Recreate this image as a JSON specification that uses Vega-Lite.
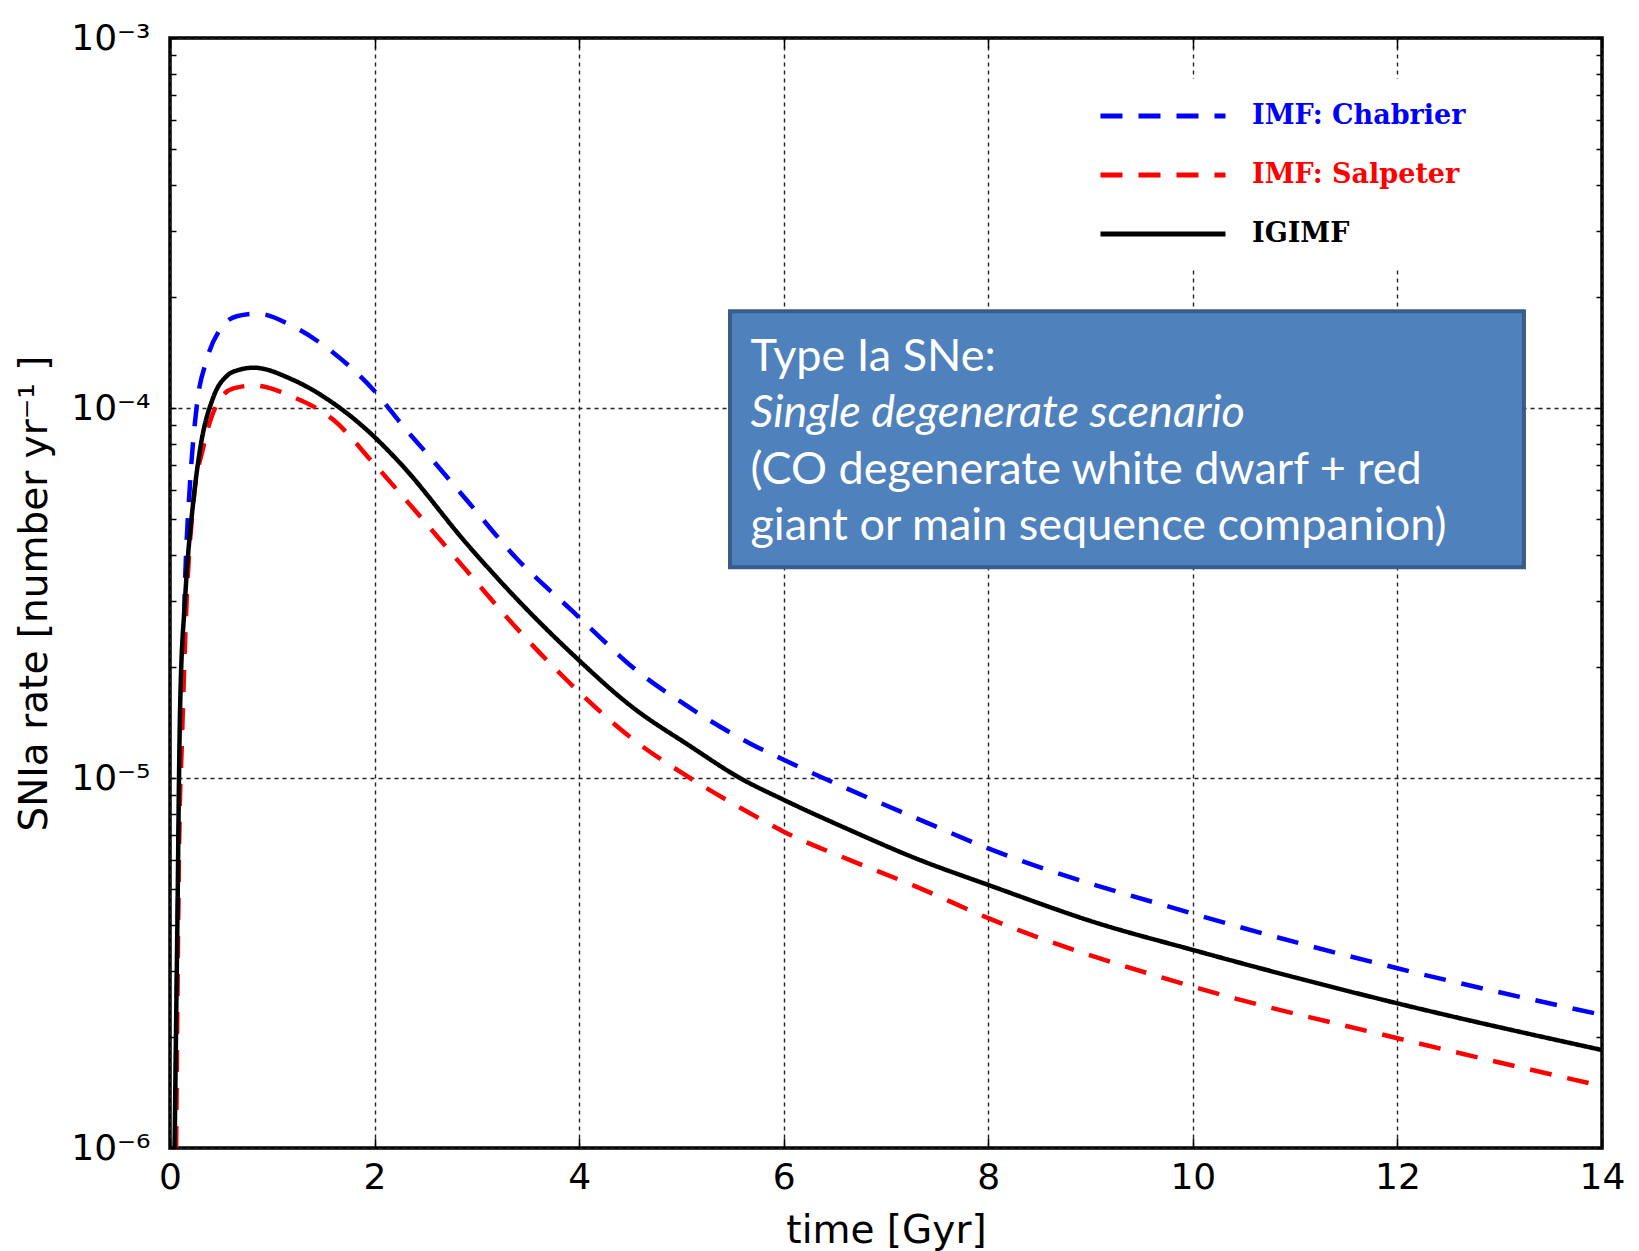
{
  "$schema": "https://vega.github.io/schema/vega-lite/v6.json",
  "width": 1432,
  "height": 1110,
  "autosize": {"type": "none"},
  "padding": {"left": 170, "top": 38, "right": 37, "bottom": 103},
  "background": "white",
  "config": {
    "view": {"stroke": "black", "strokeWidth": 3.5},
    "axis": {
      "labelFont": "DejaVu Sans",
      "labelFontSize": 36,
      "labelColor": "black",
      "titleFont": "DejaVu Sans",
      "titleFontSize": 39,
      "titleFontWeight": "normal",
      "titleColor": "black",
      "tickColor": "black",
      "tickWidth": 1.5,
      "domain": false,
      "labelOverlap": false,
      "labelFlush": false
    }
  },
  "resolve": {"axis": {"x": "independent", "y": "independent"}},
  "layer": [
    {
      "data": {
        "values": [
          {"t": 0.05, "rate": 1.0e-6, "model": "IMF: Chabrier"},
          {"t": 0.07, "rate": 3.0e-6, "model": "IMF: Chabrier"},
          {"t": 0.09, "rate": 8.0e-6, "model": "IMF: Chabrier"},
          {"t": 0.114, "rate": 1.47e-5, "model": "IMF: Chabrier"},
          {"t": 0.147, "rate": 3.37e-5, "model": "IMF: Chabrier"},
          {"t": 0.196, "rate": 6.27e-5, "model": "IMF: Chabrier"},
          {"t": 0.261, "rate": 1.01e-4, "model": "IMF: Chabrier"},
          {"t": 0.359, "rate": 1.35e-4, "model": "IMF: Chabrier"},
          {"t": 0.489, "rate": 1.63e-4, "model": "IMF: Chabrier"},
          {"t": 0.652, "rate": 1.77e-4, "model": "IMF: Chabrier"},
          {"t": 0.847, "rate": 1.80e-4, "model": "IMF: Chabrier"},
          {"t": 1.206, "rate": 1.66e-4, "model": "IMF: Chabrier"},
          {"t": 1.597, "rate": 1.41e-4, "model": "IMF: Chabrier"},
          {"t": 1.988, "rate": 1.12e-4, "model": "IMF: Chabrier"},
          {"t": 2.297, "rate": 8.81e-5, "model": "IMF: Chabrier"},
          {"t": 2.509, "rate": 7.55e-5, "model": "IMF: Chabrier"},
          {"t": 2.9, "rate": 5.64e-5, "model": "IMF: Chabrier"},
          {"t": 3.389, "rate": 3.92e-5, "model": "IMF: Chabrier"},
          {"t": 3.943, "rate": 2.81e-5, "model": "IMF: Chabrier"},
          {"t": 4.204, "rate": 2.4e-5, "model": "IMF: Chabrier"},
          {"t": 4.497, "rate": 2.02e-5, "model": "IMF: Chabrier"},
          {"t": 5.018, "rate": 1.59e-5, "model": "IMF: Chabrier"},
          {"t": 5.67, "rate": 1.24e-5, "model": "IMF: Chabrier"},
          {"t": 6.0, "rate": 1.12e-5, "model": "IMF: Chabrier"},
          {"t": 6.648, "rate": 9.29e-6, "model": "IMF: Chabrier"},
          {"t": 7.3, "rate": 7.78e-6, "model": "IMF: Chabrier"},
          {"t": 8.0, "rate": 6.45e-6, "model": "IMF: Chabrier"},
          {"t": 10.0, "rate": 4.3e-6, "model": "IMF: Chabrier"},
          {"t": 12.0, "rate": 3.06e-6, "model": "IMF: Chabrier"},
          {"t": 14.0, "rate": 2.29e-6, "model": "IMF: Chabrier"},

          {"t": 0.06, "rate": 1.0e-6, "model": "IMF: Salpeter"},
          {"t": 0.075, "rate": 3.0e-6, "model": "IMF: Salpeter"},
          {"t": 0.09, "rate": 7.0e-6, "model": "IMF: Salpeter"},
          {"t": 0.114, "rate": 1.19e-5, "model": "IMF: Salpeter"},
          {"t": 0.163, "rate": 3.03e-5, "model": "IMF: Salpeter"},
          {"t": 0.228, "rate": 5.52e-5, "model": "IMF: Salpeter"},
          {"t": 0.326, "rate": 7.85e-5, "model": "IMF: Salpeter"},
          {"t": 0.456, "rate": 1.02e-4, "model": "IMF: Salpeter"},
          {"t": 0.619, "rate": 1.13e-4, "model": "IMF: Salpeter"},
          {"t": 0.815, "rate": 1.15e-4, "model": "IMF: Salpeter"},
          {"t": 1.206, "rate": 1.07e-4, "model": "IMF: Salpeter"},
          {"t": 1.597, "rate": 9.29e-5, "model": "IMF: Salpeter"},
          {"t": 1.988, "rate": 7.1e-5, "model": "IMF: Salpeter"},
          {"t": 2.281, "rate": 5.75e-5, "model": "IMF: Salpeter"},
          {"t": 2.868, "rate": 3.72e-5, "model": "IMF: Salpeter"},
          {"t": 3.356, "rate": 2.6e-5, "model": "IMF: Salpeter"},
          {"t": 3.878, "rate": 1.84e-5, "model": "IMF: Salpeter"},
          {"t": 4.53, "rate": 1.27e-5, "model": "IMF: Salpeter"},
          {"t": 5.084, "rate": 1.0e-5, "model": "IMF: Salpeter"},
          {"t": 5.67, "rate": 8.03e-6, "model": "IMF: Salpeter"},
          {"t": 6.0, "rate": 7.16e-6, "model": "IMF: Salpeter"},
          {"t": 6.648, "rate": 6.0e-6, "model": "IMF: Salpeter"},
          {"t": 7.3, "rate": 5.08e-6, "model": "IMF: Salpeter"},
          {"t": 8.0, "rate": 4.18e-6, "model": "IMF: Salpeter"},
          {"t": 10.0, "rate": 2.73e-6, "model": "IMF: Salpeter"},
          {"t": 12.0, "rate": 1.98e-6, "model": "IMF: Salpeter"},
          {"t": 14.0, "rate": 1.47e-6, "model": "IMF: Salpeter"},

          {"t": 0.045, "rate": 1.0e-6, "model": "IGIMF"},
          {"t": 0.06, "rate": 2.2e-6, "model": "IGIMF"},
          {"t": 0.075, "rate": 4.7e-6, "model": "IGIMF"},
          {"t": 0.088, "rate": 1.0e-5, "model": "IGIMF"},
          {"t": 0.1, "rate": 1.6e-5, "model": "IGIMF"},
          {"t": 0.147, "rate": 3.03e-5, "model": "IGIMF"},
          {"t": 0.228, "rate": 5.6e-5, "model": "IGIMF"},
          {"t": 0.293, "rate": 7.7e-5, "model": "IGIMF"},
          {"t": 0.424, "rate": 1.07e-4, "model": "IGIMF"},
          {"t": 0.554, "rate": 1.22e-4, "model": "IGIMF"},
          {"t": 0.684, "rate": 1.27e-4, "model": "IGIMF"},
          {"t": 0.815, "rate": 1.285e-4, "model": "IGIMF"},
          {"t": 1.206, "rate": 1.19e-4, "model": "IGIMF"},
          {"t": 1.597, "rate": 1.03e-4, "model": "IGIMF"},
          {"t": 1.923, "rate": 8.73e-5, "model": "IGIMF"},
          {"t": 2.249, "rate": 7.1e-5, "model": "IGIMF"},
          {"t": 2.9, "rate": 4.3e-5, "model": "IGIMF"},
          {"t": 3.389, "rate": 3.05e-5, "model": "IGIMF"},
          {"t": 3.943, "rate": 2.15e-5, "model": "IGIMF"},
          {"t": 4.513, "rate": 1.56e-5, "model": "IGIMF"},
          {"t": 5.084, "rate": 1.22e-5, "model": "IGIMF"},
          {"t": 5.572, "rate": 1.0e-5, "model": "IGIMF"},
          {"t": 6.0, "rate": 8.73e-6, "model": "IGIMF"},
          {"t": 6.648, "rate": 7.23e-6, "model": "IGIMF"},
          {"t": 7.3, "rate": 6.05e-6, "model": "IGIMF"},
          {"t": 8.0, "rate": 5.14e-6, "model": "IGIMF"},
          {"t": 9.07, "rate": 4.05e-6, "model": "IGIMF"},
          {"t": 10.0, "rate": 3.43e-6, "model": "IGIMF"},
          {"t": 11.02, "rate": 2.88e-6, "model": "IGIMF"},
          {"t": 12.0, "rate": 2.46e-6, "model": "IGIMF"},
          {"t": 14.0, "rate": 1.84e-6, "model": "IGIMF"}
        ]
      },
      "mark": {"type": "line", "interpolate": "monotone", "strokeWidth": 4.5, "clip": true},
      "encoding": {
        "x": {
          "field": "t", "type": "quantitative",
          "scale": {"domain": [0, 14], "nice": false, "zero": false},
          "axis": {
            "orient": "bottom",
            "values": [0, 2, 4, 6, 8, 10, 12, 14],
            "format": "d",
            "grid": true, "gridColor": "#222222", "gridDash": [4, 4], "gridWidth": 1.4,
            "tickSize": -10,
            "labelPadding": 22,
            "title": "time [Gyr]",
            "titlePadding": 16
          }
        },
        "y": {
          "field": "rate", "type": "quantitative",
          "scale": {"type": "log", "domain": [1e-6, 1e-3], "nice": false},
          "axis": {
            "orient": "left",
            "values": [1e-6, 2e-6, 3e-6, 4e-6, 5e-6, 6e-6, 7e-6, 8e-6, 9e-6, 1e-5, 2e-5, 3e-5, 4e-5, 5e-5, 6e-5, 7e-5, 8e-5, 9e-5, 1e-4, 2e-4, 3e-4, 4e-4, 5e-4, 6e-4, 7e-4, 8e-4, 9e-4, 1e-3],
            "labelExpr": "abs(log(datum.value)/LN10 - round(log(datum.value)/LN10)) > 0.01 ? '' : round(log(datum.value)/LN10) == -3 ? '10⁻³' : round(log(datum.value)/LN10) == -4 ? '10⁻⁴' : round(log(datum.value)/LN10) == -5 ? '10⁻⁵' : '10⁻⁶'",
            "grid": true, "gridColor": "#222222", "gridDash": [4, 4], "gridWidth": 1.4,
            "gridOpacity": {"condition": {"test": "abs(log(datum.value)/LN10 - round(log(datum.value)/LN10)) < 0.01", "value": 1}, "value": 0},
            "tickSize": -6,
            "labelPadding": 26,
            "title": "SNIa rate [number yr⁻¹ ]",
            "titlePadding": 16
          }
        },
        "color": {
          "field": "model", "type": "nominal",
          "scale": {"domain": ["IMF: Chabrier", "IMF: Salpeter", "IGIMF"], "range": ["#0000ff", "#ff0000", "#000000"]},
          "legend": {
            "orient": "none", "legendX": 906, "legendY": 41,
            "title": null,
            "symbolType": "M-1,0H9",
            "symbolSize": 625,
            "symbolStrokeWidth": 5,
            "labelFont": "DejaVu Serif", "labelFontSize": 27, "labelFontWeight": "bold",
            "labelLimit": 400,
            "labelOffset": 124,
            "rowPadding": 31,
            "padding": 22,
            "fillColor": "white",
            "encode": {
              "labels": {"update": {"fill": {"signal": "scale('color', datum.value)"}}},
              "symbols": {"update": {"strokeDash": {"signal": "datum.value == 'IGIMF' ? [1, 0] : [27, 18]"}}}
            }
          }
        },
        "strokeDash": {
          "field": "model", "type": "nominal",
          "scale": {"domain": ["IMF: Chabrier", "IMF: Salpeter", "IGIMF"], "range": [[22, 16], [22, 16], [1, 0]]},
          "legend": null
        }
      }
    },
    {
      "data": {"values": [{"note": "box"}]},
      "mark": {"type": "rect", "fill": "#4F81BD", "stroke": "#385D8A", "strokeWidth": 4},
      "encoding": {
        "x": {
          "datum": 5.475, "type": "quantitative",
          "scale": {"domain": [0, 14], "nice": false, "zero": false},
          "axis": {"orient": "top", "values": [0, 2, 4, 6, 8, 10, 12, 14], "labels": false, "grid": false, "tickSize": -10, "title": null}
        },
        "x2": {"datum": 13.237},
        "y": {
          "datum": 1.825e-4, "type": "quantitative",
          "scale": {"type": "log", "domain": [1e-6, 1e-3], "nice": false},
          "axis": {
            "orient": "right",
            "values": [1e-6, 2e-6, 3e-6, 4e-6, 5e-6, 6e-6, 7e-6, 8e-6, 9e-6, 1e-5, 2e-5, 3e-5, 4e-5, 5e-5, 6e-5, 7e-5, 8e-5, 9e-5, 1e-4, 2e-4, 3e-4, 4e-4, 5e-4, 6e-4, 7e-4, 8e-4, 9e-4, 1e-3],
            "labels": false, "grid": false, "tickSize": -6, "title": null
          }
        },
        "y2": {"datum": 3.71e-5}
      }
    },
    {
      "data": {"values": [{"label": "Type Ia SNe:"}]},
      "mark": {"type": "text", "font": "Lato", "fontSize": 45, "fill": "white", "align": "left", "baseline": "alphabetic"},
      "encoding": {
        "x": {"datum": 5.675, "type": "quantitative", "scale": {"domain": [0, 14], "nice": false, "zero": false}, "axis": null},
        "y": {"datum": 1.259e-4, "type": "quantitative", "scale": {"type": "log", "domain": [1e-6, 1e-3], "nice": false}, "axis": null},
        "text": {"field": "label"}
      }
    },
    {
      "data": {"values": [{"label": "Single degenerate scenario"}]},
      "mark": {"type": "text", "font": "Lato", "fontSize": 45, "fontStyle": "italic", "fill": "white", "align": "left", "baseline": "alphabetic"},
      "encoding": {
        "x": {"datum": 5.675, "type": "quantitative", "scale": {"domain": [0, 14], "nice": false, "zero": false}, "axis": null},
        "y": {"datum": 8.91e-5, "type": "quantitative", "scale": {"type": "log", "domain": [1e-6, 1e-3], "nice": false}, "axis": null},
        "text": {"field": "label"}
      }
    },
    {
      "data": {"values": [{"label": "(CO degenerate white dwarf + red\ngiant or main sequence companion)"}]},
      "mark": {"type": "text", "font": "Lato", "fontSize": 45, "fill": "white", "align": "left", "baseline": "alphabetic", "lineBreak": "\n", "lineHeight": 56},
      "encoding": {
        "x": {"datum": 5.675, "type": "quantitative", "scale": {"domain": [0, 14], "nice": false, "zero": false}, "axis": null},
        "y": {"datum": 6.23e-5, "type": "quantitative", "scale": {"type": "log", "domain": [1e-6, 1e-3], "nice": false}, "axis": null},
        "text": {"field": "label"}
      }
    }
  ]
}
